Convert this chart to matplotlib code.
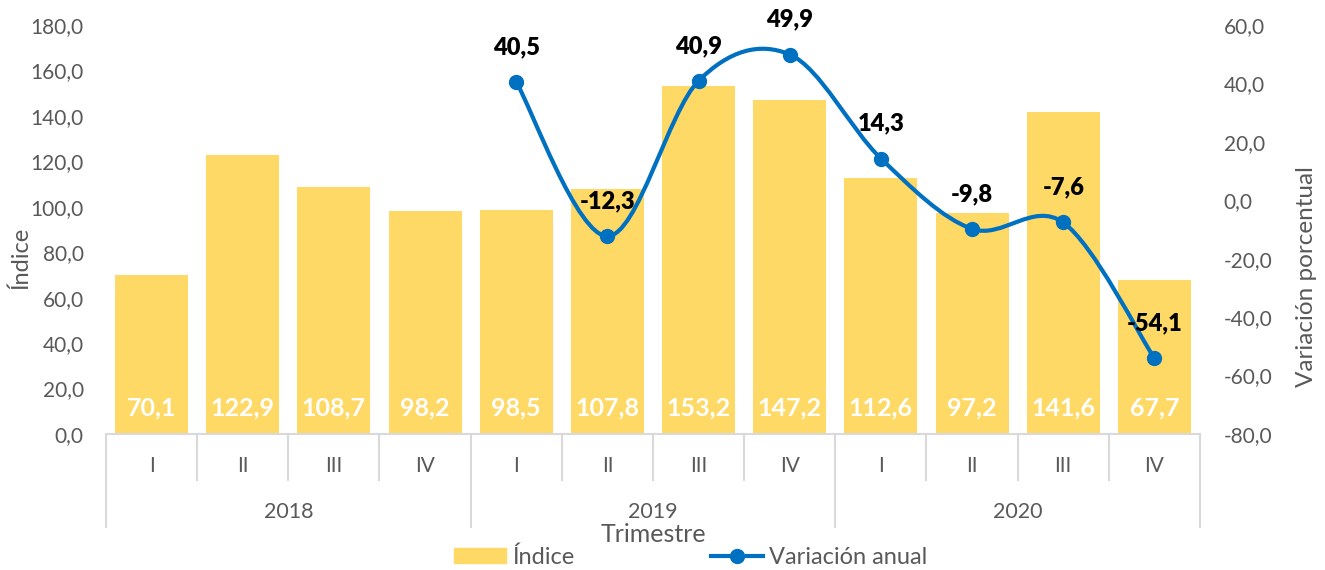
import numpy as np
import matplotlib
matplotlib.use('Agg')
import matplotlib.pyplot as plt
from matplotlib.path import Path
from matplotlib.patches import PathPatch, Patch
from matplotlib.lines import Line2D
import matplotlib.transforms as mtransforms

plt.rcParams['font.family'] = ['Lato', 'DejaVu Sans']

# Data
quarters = ['I', 'II', 'III', 'IV'] * 3
years = ['2018', '2019', '2020']
indice = [70.1, 122.9, 108.7, 98.2, 98.5, 107.8, 153.2, 147.2, 112.6, 97.2, 141.6, 67.7]
var_pos = [4, 5, 6, 7, 8, 9, 10, 11]
variacion = [40.5, -12.3, 40.9, 49.9, 14.3, -9.8, -7.6, -54.1]

BAR = '#FFD966'
LINE = '#0070C0'
TXT = '#595959'
GRID = '#D9D9D9'

def fmt(v):
    return f'{v:.1f}'.replace('.', ',')

def smooth_path(xs, ys):
    # Excel-style smoothed line as cubic Bezier segments through the points
    pts = np.column_stack([xs, ys]).astype(float)
    n = len(pts)
    verts = [pts[0]]
    codes = [Path.MOVETO]
    for i in range(n - 1):
        p0 = pts[i - 1] if i > 0 else pts[i]
        p1 = pts[i]
        p2 = pts[i + 1]
        p3 = pts[i + 2] if i + 2 < n else pts[i + 1]
        c1 = p1 + (p2 - p0) / 6
        c2 = p2 - (p3 - p1) / 6
        verts += [c1, c2, p2]
        codes += [Path.CURVE4] * 3
    return Path(verts, codes)

W, H = 1325, 570
fig = plt.figure(figsize=(W / 100, H / 100), dpi=100)
x0, x1, ytop, ybot = 106, 1200, 25, 434
ax = fig.add_axes([x0 / W, 1 - ybot / H, (x1 - x0) / W, (ybot - ytop) / H])
ax2 = ax.twinx()

n = len(indice)
x = np.arange(n)
ax.bar(x, indice, width=0.8, color=BAR, zorder=1)
ax.set_xlim(-0.5, n - 0.5)
ax.set_ylim(0, 180)
ax.set_yticks(np.arange(0, 181, 20))
ax.set_yticklabels([fmt(v) for v in np.arange(0, 181, 20)])
ax.set_xticks([])

for i, v in enumerate(indice):
    ax.text(i, 11.5, fmt(v), ha='center', va='center', color='white',
            fontsize=18, fontweight='bold', zorder=3)

ax2.set_ylim(-80, 60)
ax2.set_yticks(np.arange(-80, 61, 20))
ax2.set_yticklabels([fmt(v) for v in np.arange(-80, 61, 20)])
ax2.add_patch(PathPatch(smooth_path(var_pos, variacion), fill=False,
                        edgecolor=LINE, lw=3, zorder=4))
ax2.plot(var_pos, variacion, 'o', color=LINE, ms=10, zorder=5)
for xp, v in zip(var_pos, variacion):
    ax2.annotate(fmt(v), (xp, v), xytext=(0, 25), textcoords='offset points',
                 ha='center', va='center', fontsize=17, fontweight='heavy',
                 color='black', zorder=6)

for a in (ax, ax2):
    for s in a.spines.values():
        s.set_visible(False)
    a.tick_params(length=0, labelsize=15, labelcolor=TXT)
ax.tick_params(axis='y', pad=16)
ax2.tick_params(axis='y', pad=17)

pw = x1 - x0
ph = ybot - ytop
ax.set_ylabel('Índice', fontsize=17, color=TXT)
ax.yaxis.set_label_coords((31 - x0) / pw, (ybot - 258) / ph)
ax2.set_ylabel('Variación porcentual', fontsize=17.5, color=TXT)
ax2.yaxis.set_label_coords((1296 - x0) / pw, (ybot - 277) / ph)

# multi-level category axis
tr = mtransforms.blended_transform_factory(ax.transData, ax.transAxes)
y_q = -(480 - ybot) / ph
y_y = -(527 - ybot) / ph
ax.plot([-0.5, n - 0.5], [0, 0], transform=tr, color=GRID, lw=1.5, clip_on=False)
for i in range(n + 1):
    bottom = y_y if i % 4 == 0 else y_q
    ax.plot([i - 0.5, i - 0.5], [0, bottom], transform=tr, color=GRID,
            lw=1.5, clip_on=False)
for i, q in enumerate(quarters):
    ax.text(i, -(466 - ybot) / ph, q, transform=tr, ha='center', va='center',
            fontsize=15, color=TXT)
for k, yr in enumerate(years):
    ax.text(4 * k + 1.5, -(512 - ybot) / ph, yr, transform=tr, ha='center',
            va='center', fontsize=15.5, color=TXT)
ax.text((n - 1) / 2, -(534 - ybot) / ph, 'Trimestre', transform=tr,
        ha='center', va='center', fontsize=18, color=TXT)

handles = [Patch(color=BAR, label='Índice'),
           Line2D([], [], color=LINE, lw=3, marker='o', ms=10, label='Variación anual')]
fig.legend(handles=handles, loc='center', bbox_to_anchor=(691 / W, 1 - 557 / H),
           ncol=2, frameon=False, fontsize=17, labelcolor=TXT,
           handlelength=2.2, handletextpad=0.25, columnspacing=5.8,
           handleheight=0.55)

fig.savefig('out.png', dpi=100)
